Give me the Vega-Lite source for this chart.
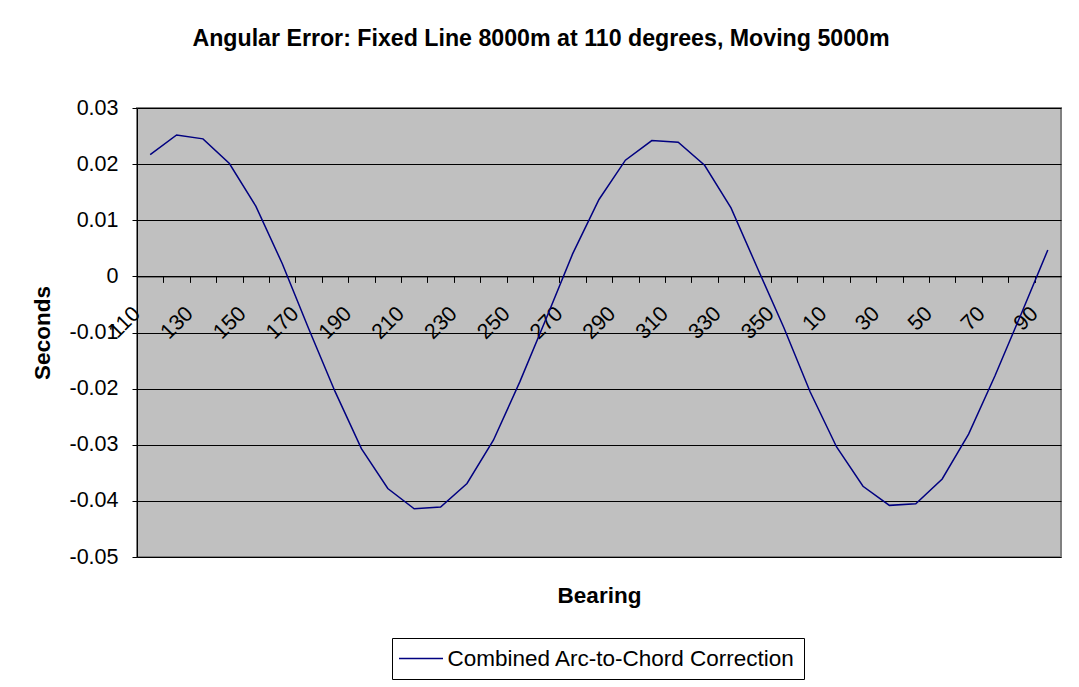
{
  "$schema": "https://vega.github.io/schema/vega-lite/v6.json",
  "width": 924,
  "height": 449,
  "autosize": "none",
  "padding": {"left": 137, "top": 108, "right": 18, "bottom": 130},
  "background": "white",
  "title": {
    "text": "Angular Error: Fixed Line 8000m at 110 degrees, Moving 5000m",
    "font": "Liberation Sans",
    "fontSize": 23.2,
    "fontWeight": "bold",
    "color": "black",
    "anchor": "middle",
    "frame": "group",
    "baseline": "alphabetic",
    "offset": 28,
    "dx": -58
  },
  "data": {
    "values": [
      {"bearing": 110, "seconds": 0.0217},
      {"bearing": 120, "seconds": 0.0252},
      {"bearing": 130, "seconds": 0.0245},
      {"bearing": 140, "seconds": 0.0201},
      {"bearing": 150, "seconds": 0.0125},
      {"bearing": 160, "seconds": 0.0023},
      {"bearing": 170, "seconds": -0.0093},
      {"bearing": 180, "seconds": -0.0205},
      {"bearing": 190, "seconds": -0.0307},
      {"bearing": 200, "seconds": -0.0378},
      {"bearing": 210, "seconds": -0.0414},
      {"bearing": 220, "seconds": -0.0411},
      {"bearing": 230, "seconds": -0.0369},
      {"bearing": 240, "seconds": -0.0292},
      {"bearing": 250, "seconds": -0.0188},
      {"bearing": 260, "seconds": -0.0075},
      {"bearing": 270, "seconds": 0.0040},
      {"bearing": 280, "seconds": 0.0137},
      {"bearing": 290, "seconds": 0.0207},
      {"bearing": 300, "seconds": 0.0242},
      {"bearing": 310, "seconds": 0.0239},
      {"bearing": 320, "seconds": 0.0198},
      {"bearing": 330, "seconds": 0.0122},
      {"bearing": 340, "seconds": 0.0015},
      {"bearing": 350, "seconds": -0.0091},
      {"bearing": 0, "seconds": -0.0206},
      {"bearing": 10, "seconds": -0.0304},
      {"bearing": 20, "seconds": -0.0374},
      {"bearing": 30, "seconds": -0.0408},
      {"bearing": 40, "seconds": -0.0405},
      {"bearing": 50, "seconds": -0.0361},
      {"bearing": 60, "seconds": -0.0281},
      {"bearing": 70, "seconds": -0.0177},
      {"bearing": 80, "seconds": -0.0066},
      {"bearing": 90, "seconds": 0.0047}
    ]
  },
  "mark": {"type": "line", "strokeWidth": 1.5, "interpolate": "linear"},
  "encoding": {
    "x": {
      "field": "bearing",
      "type": "ordinal",
      "sort": null,
      "scale": {"type": "point", "padding": 0.5},
      "axis": {
        "orient": "bottom",
        "offset": -280.6,
        "domainColor": "black",
        "domainWidth": 1,
        "ticks": true,
        "tickColor": "black",
        "tickSize": 6,
        "tickOffset": -13.2,
        "grid": false,
        "labelAngle": -45,
        "labelFont": "Liberation Sans",
        "labelFontSize": 21.5,
        "labelColor": "black",
        "labelPadding": 20,
        "labelOffset": -8,
        "labelExpr": "datum.value % 20 == 10 ? datum.label : ''",
        "title": "Bearing",
        "titleFont": "Liberation Sans",
        "titleFontSize": 22.5,
        "titleFontWeight": "bold",
        "titleColor": "black",
        "titleBaseline": "middle",
        "titleY": 319,
        "titleX": 462
      }
    },
    "y": {
      "field": "seconds",
      "type": "quantitative",
      "scale": {"domain": [-0.05, 0.03], "nice": false, "zero": false},
      "axis": {
        "values": [-0.05, -0.04, -0.03, -0.02, -0.01, 0, 0.01, 0.02, 0.03],
        "labelExpr": "toString(datum.value)",
        "domainColor": "black",
        "domainWidth": 1,
        "tickColor": "black",
        "tickSize": 5,
        "labelPadding": 14,
        "labelFont": "Liberation Sans",
        "labelFontSize": 21.5,
        "labelColor": "black",
        "grid": true,
        "gridColor": "black",
        "gridWidth": 1,
        "gridOpacity": 1,
        "title": "Seconds",
        "titleFont": "Liberation Sans",
        "titleFontSize": 22.5,
        "titleFontWeight": "bold",
        "titleColor": "black",
        "titleAngle": -90,
        "titleBaseline": "middle",
        "titleAlign": "center",
        "titleX": -95,
        "titleY": 224.5
      }
    },
    "color": {
      "datum": "Combined Arc-to-Chord Correction",
      "type": "nominal",
      "scale": {"range": ["#000080"]},
      "legend": {
        "orient": "none",
        "legendX": 255,
        "legendY": 530,
        "title": null,
        "fillColor": "white",
        "strokeColor": "black",
        "padding": 8.5,
        "symbolType": "M-2,0H2",
        "symbolSize": 484,
        "symbolStrokeWidth": 1.5,
        "symbolOffset": 8.5,
        "labelFont": "Liberation Sans",
        "labelFontSize": 22.5,
        "labelColor": "black",
        "labelOffset": 14.5,
        "labelLimit": 0
      }
    }
  },
  "config": {
    "view": {"fill": "#C0C0C0", "stroke": "#808080", "strokeWidth": 2}
  }
}
